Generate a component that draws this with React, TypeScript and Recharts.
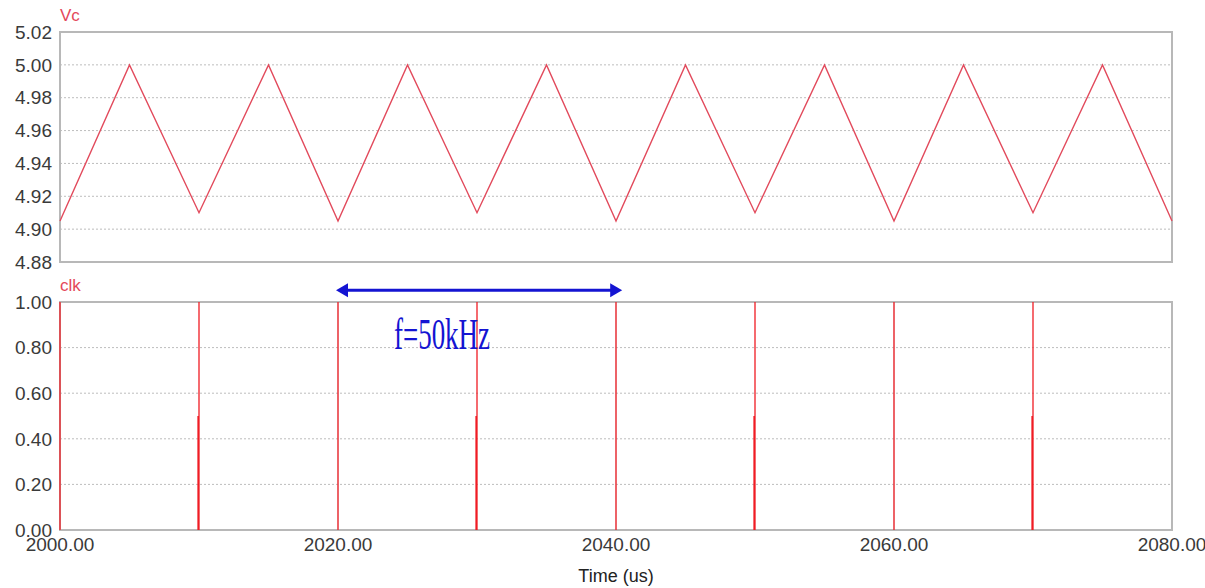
import React from "react";
import {
  LineChart,
  Line,
  XAxis,
  YAxis,
  CartesianGrid,
  ReferenceArea,
  ReferenceLine,
} from "recharts";

// Vc triangle wave (time in us, volts)
const vcTime = [2000, 2005, 2010, 2015, 2020, 2025, 2030, 2035, 2040, 2045, 2050, 2055, 2060, 2065, 2070, 2075, 2080];
const vcValue = [4.905, 5.0, 4.91, 5.0, 4.905, 5.0, 4.91, 5.0, 4.905, 5.0, 4.91, 5.0, 4.905, 5.0, 4.91, 5.0, 4.905];

// clk pulses, null breaks the trace between pulses
const clkTime = [
  2000, 2000, 2000, 2000.01,
  2009.93, 2009.93, 2009.93, 2010, 2010, 2010, 2010.01,
  2020, 2020, 2020, 2020.01,
  2029.93, 2029.93, 2029.93, 2030, 2030, 2030, 2030.01,
  2040, 2040, 2040, 2040.01,
  2049.93, 2049.93, 2049.93, 2050, 2050, 2050, 2050.01,
  2060, 2060, 2060, 2060.01,
  2069.93, 2069.93, 2069.93, 2070, 2070, 2070, 2070.01,
];
const clkValue = [
  0, 1, 0, null,
  0, 0.5, 0, 0, 1, 0, null,
  0, 1, 0, null,
  0, 0.5, 0, 0, 1, 0, null,
  0, 1, 0, null,
  0, 0.5, 0, 0, 1, 0, null,
  0, 1, 0, null,
  0, 0.5, 0, 0, 1, 0, null,
];

const timeTicks = [2000, 2020, 2040, 2060, 2080];
const vcTicks = [4.88, 4.9, 4.92, 4.94, 4.96, 4.98, 5.0, 5.02];
const clkTicks = [0, 0.2, 0.4, 0.6, 0.8, 1.0];

// frequency marker, one clock period pair
const markerStart = 2020;
const markerEnd = 2040.3;
const markerLevel = 1.051;

const vcData = vcTime.map((t, i) => ({ t, vc: vcValue[i] }));
const clkData = clkTime.map((t, i) => ({ t, clk: clkValue[i] }));

const tickStyle = { fill: "#3a3a3a", fontSize: 19, fontFamily: "Liberation Sans, Arial, sans-serif" };
const fmt = (v: number) => v.toFixed(2);

const ArrowShape = (props: any) => {
  const { x1, y1, x2, y2 } = props;
  const c = "#1414d2";
  return (
    <g>
      <line x1={x1 + 8} y1={y1} x2={x2 - 8} y2={y2} stroke={c} strokeWidth={3} />
      <polygon points={`${x1 - 2},${y1} ${x1 + 10},${y1 - 7} ${x1 + 10},${y1 + 7}`} fill={c} />
      <polygon points={`${x2 + 2},${y2} ${x2 - 10},${y2 - 7} ${x2 - 10},${y2 + 7}`} fill={c} />
      <text
        x={x1 + 56}
        y={y1 + 59}
        fill={c}
        fontSize={44}
        fontFamily="Liberation Serif, Times New Roman, serif"
        textLength={96}
        lengthAdjust="spacingAndGlyphs"
      >
        f=50kHz
      </text>
    </g>
  );
};

const panelTitle = (text: string, top: number) => (
  <div
    style={{
      position: "absolute",
      left: 60,
      top,
      color: "#e4485a",
      fontSize: 17,
      fontFamily: "Liberation Sans, Arial, sans-serif",
    }}
  >
    {text}
  </div>
);

export default function App() {
  return (
    <div style={{ position: "absolute", left: 0, top: 0, width: 1205, height: 588, background: "#fff", overflow: "hidden" }}>
      {panelTitle("Vc", 6)}
      {panelTitle("clk", 276)}

      <div style={{ position: "absolute", left: 0, top: 0 }}>
        <LineChart width={1205} height={300} data={vcData} margin={{ top: 32, right: 33, left: 0, bottom: 38 }}>
          <CartesianGrid horizontal={false} stroke="#d0d0d0" />
          <CartesianGrid vertical={false} stroke="#bdbdbd" strokeDasharray="2 2" />
          <XAxis
            dataKey="t"
            type="number"
            domain={[2000, 2080]}
            ticks={timeTicks}
            tick={false}
            axisLine={false}
            tickLine={false}
            height={0}
          />
          <YAxis
            type="number"
            domain={[4.88, 5.02]}
            ticks={vcTicks}
            tickFormatter={fmt}
            tick={tickStyle}
            axisLine={false}
            tickLine={false}
            width={60}
            allowDataOverflow
          />
          <ReferenceArea x1={2000} x2={2080} y1={4.88} y2={5.02} fill="none" stroke="#b8b8b8" strokeWidth={2} />
          <Line dataKey="vc" type="linear" stroke="#e24a5c" strokeWidth={1.4} dot={false} isAnimationActive={false} />
        </LineChart>
      </div>

      <div style={{ position: "absolute", left: 0, top: 272 }}>
        <LineChart width={1205} height={316} data={clkData} margin={{ top: 30, right: 33, left: 0, bottom: 0 }}>
          <CartesianGrid horizontal={false} stroke="#d0d0d0" />
          <CartesianGrid vertical={false} stroke="#bdbdbd" strokeDasharray="2 2" />
          <XAxis
            dataKey="t"
            type="number"
            domain={[2000, 2080]}
            ticks={timeTicks}
            tickFormatter={fmt}
            tick={tickStyle}
            axisLine={false}
            tickLine={false}
            height={58}
            label={{
              value: "Time (us)",
              position: "insideBottom",
              offset: 6,
              fill: "#222",
              fontSize: 18,
              fontFamily: "Liberation Sans, Arial, sans-serif",
            }}
          />
          <YAxis
            type="number"
            domain={[0, 1]}
            ticks={clkTicks}
            tickFormatter={fmt}
            tick={tickStyle}
            axisLine={false}
            tickLine={false}
            width={60}
            allowDataOverflow
          />
          <ReferenceArea x1={2000} x2={2080} y1={0} y2={1} fill="none" stroke="#b8b8b8" strokeWidth={2} />
          <Line
            dataKey="clk"
            type="linear"
            stroke="#f01c24"
            strokeWidth={1.3}
            dot={false}
            connectNulls={false}
            isAnimationActive={false}
          />
          <ReferenceLine
            segment={[
              { x: markerStart, y: markerLevel },
              { x: markerEnd, y: markerLevel },
            ]}
            ifOverflow="visible"
            shape={ArrowShape}
          />
        </LineChart>
      </div>
    </div>
  );
}
